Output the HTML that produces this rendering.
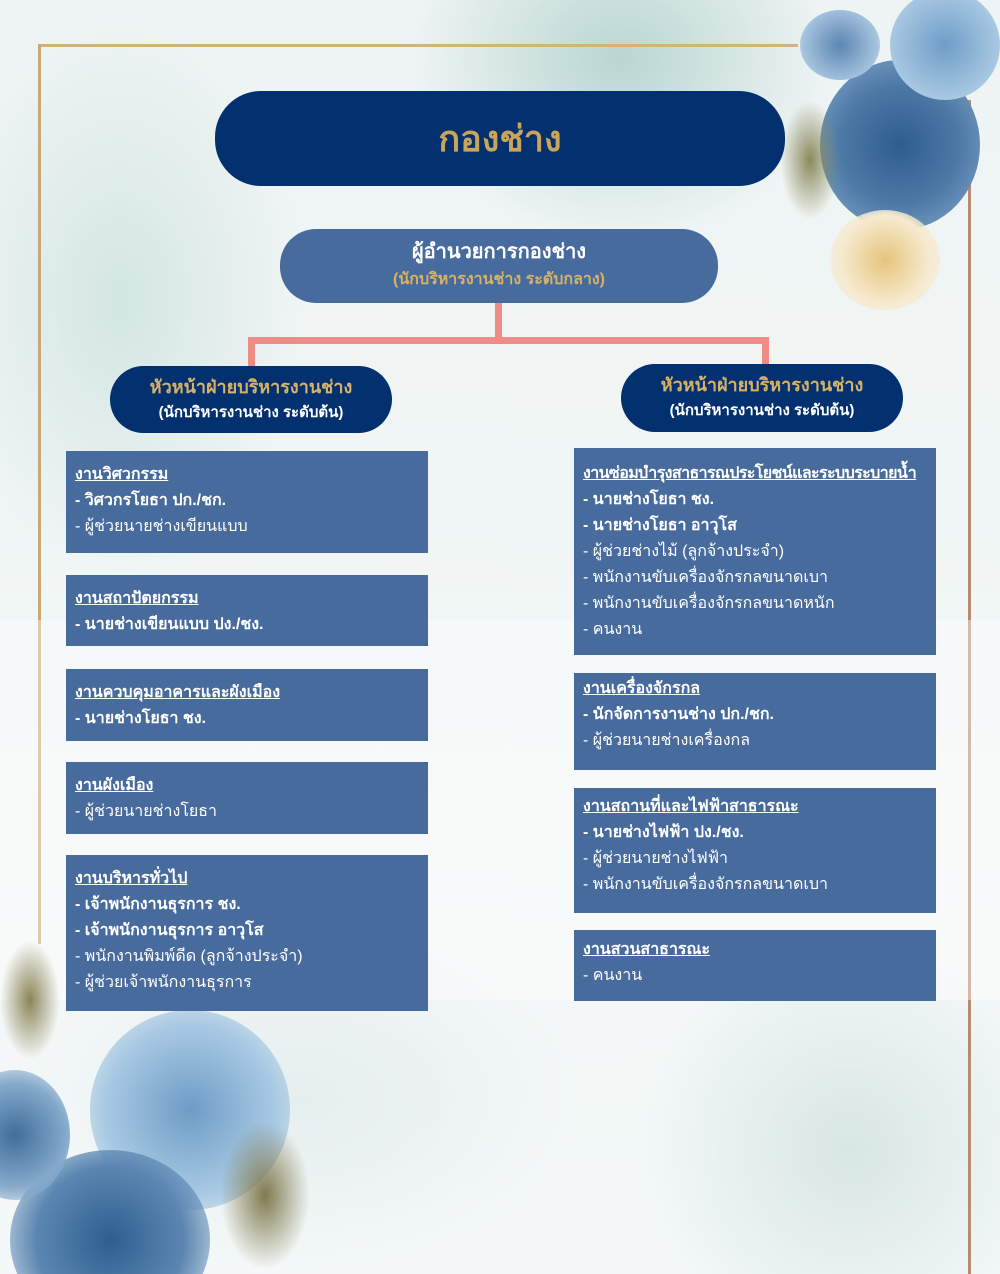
<!DOCTYPE html>
<html><head><meta charset="utf-8"><style>
*{margin:0;padding:0;box-sizing:border-box}
html,body{width:1000px;height:1274px;overflow:hidden}
#w{width:1000px;height:1274px;position:relative;overflow:hidden;font-family:"Liberation Sans","DejaVu Sans",sans-serif;
background:
radial-gradient(ellipse 300px 260px at 620px 60px,#b9d6d3 0%,rgba(185,214,211,0) 70%),
radial-gradient(ellipse 260px 400px at 120px 300px,#d3e6e4 0%,rgba(211,230,228,0) 70%),
radial-gradient(ellipse 300px 300px at 850px 1150px,#d8e6e6 0%,rgba(216,230,230,0) 70%),
radial-gradient(ellipse 400px 250px at 300px 1100px,#e6eeee 0%,rgba(230,238,238,0) 70%),
linear-gradient(#eef4f3,#f4f8f8);}
.a{position:absolute}
.pill{position:absolute;border-radius:36px;text-align:center;font-weight:bold}
.box{position:absolute;background:#486b9e;color:#fff;padding:11px 9px;font-size:16px;line-height:26px;white-space:nowrap;overflow:hidden}
.box u{font-weight:bold}
.b{font-weight:bold}
.fl{position:absolute;border-radius:50%}
</style></head><body><div id="w">
<div class="a" style="left:38px;top:44px;width:760px;height:3px;background:#d4b27a"></div>
<div class="a" style="left:38px;top:44px;width:3px;height:900px;background:#c9a777"></div>
<div class="a" style="left:968px;top:100px;width:3px;height:1174px;background:#b98a72"></div>
<div class="a" style="left:0;top:620px;width:1000px;height:380px;background:rgba(255,255,255,0.4)"></div>

<div class="fl" style="left:820px;top:60px;width:160px;height:170px;background:radial-gradient(circle,#2f5d8c 0%,#4c78a6 50%,#7ea3c6 90%,rgba(126,163,198,0) 100%)"></div>
<div class="fl" style="left:890px;top:-10px;width:110px;height:110px;background:radial-gradient(circle,#6f9dc8,#a8c8e2 70%,rgba(168,200,226,0))"></div>
<div class="fl" style="left:800px;top:10px;width:80px;height:70px;background:radial-gradient(circle,#5c86b3,#a5c3de 70%,rgba(165,195,222,0))"></div>
<div class="fl" style="left:830px;top:210px;width:110px;height:100px;background:radial-gradient(circle,#e6c57c,#f6ead0 60%,rgba(246,234,208,0))"></div>
<div class="fl" style="left:780px;top:100px;width:60px;height:120px;background:radial-gradient(ellipse,#8a8a5c,rgba(138,138,92,0) 70%)"></div>
<div class="fl" style="left:90px;top:1010px;width:200px;height:200px;background:radial-gradient(circle,#6e9cc6,#a8c9e3 60%,rgba(168,201,227,0) 100%)"></div>
<div class="fl" style="left:10px;top:1150px;width:200px;height:180px;background:radial-gradient(circle,#2f5f8e,#5b86b2 55%,rgba(91,134,178,0) 100%)"></div>
<div class="fl" style="left:-40px;top:1070px;width:110px;height:130px;background:radial-gradient(circle,#3f6e9a,#84a9cb 60%,rgba(132,169,203,0))"></div>
<div class="fl" style="left:220px;top:1120px;width:90px;height:150px;background:radial-gradient(ellipse,#807a4e,rgba(128,122,78,0) 70%)"></div>
<div class="fl" style="left:0;top:940px;width:60px;height:120px;background:radial-gradient(ellipse,#8b8558,rgba(139,133,88,0) 70%)"></div>

<div class="pill" style="left:215px;top:91px;width:570px;height:95px;background:#03306f;border-radius:46px;color:#c9a55a;font-size:36px;line-height:95px">กองช่าง</div>
<div class="pill" style="left:280px;top:229px;width:438px;height:74px;background:#486b9e;padding-top:8px">
<div style="color:#fff;font-size:20px;line-height:30px">ผู้อำนวยการกองช่าง</div>
<div style="color:#d7b266;font-size:16px;line-height:26px">(นักบริหารงานช่าง ระดับกลาง)</div></div>

<div class="a" style="left:495px;top:303px;width:7px;height:40px;background:#f08c88"></div>
<div class="a" style="left:248px;top:337px;width:521px;height:7px;background:#f08c88"></div>
<div class="a" style="left:248px;top:337px;width:7px;height:32px;background:#f08c88"></div>
<div class="a" style="left:762px;top:337px;width:7px;height:30px;background:#f08c88"></div>

<div class="pill" style="left:110px;top:366px;width:282px;height:67px;background:#03306f;padding-top:7px">
<div style="color:#d7b266;font-size:18px;line-height:28px">หัวหน้าฝ่ายบริหารงานช่าง</div>
<div style="color:#fff;font-size:15px;line-height:24px">(นักบริหารงานช่าง ระดับต้น)</div></div>
<div class="pill" style="left:621px;top:364px;width:282px;height:68px;background:#03306f;padding-top:7px">
<div style="color:#d7b266;font-size:18px;line-height:28px">หัวหน้าฝ่ายบริหารงานช่าง</div>
<div style="color:#fff;font-size:15px;line-height:24px">(นักบริหารงานช่าง ระดับต้น)</div></div>

<div class="box" style="left:66px;top:451px;width:362px;height:102px"><u>งานวิศวกรรม</u><br><span class="b">- วิศวกรโยธา ปก./ชก.</span><br>- ผู้ช่วยนายช่างเขียนแบบ</div>
<div class="box" style="left:66px;top:575px;width:362px;height:71px"><u>งานสถาปัตยกรรม</u><br><span class="b">- นายช่างเขียนแบบ ปง./ชง.</span></div>
<div class="box" style="left:66px;top:669px;width:362px;height:72px"><u>งานควบคุมอาคารและผังเมือง</u><br><span class="b">- นายช่างโยธา ชง.</span></div>
<div class="box" style="left:66px;top:762px;width:362px;height:72px"><u>งานผังเมือง</u><br>- ผู้ช่วยนายช่างโยธา</div>
<div class="box" style="left:66px;top:855px;width:362px;height:156px"><u>งานบริหารทั่วไป</u><br><span class="b">- เจ้าพนักงานธุรการ ชง.</span><br><span class="b">- เจ้าพนักงานธุรการ อาวุโส</span><br>- พนักงานพิมพ์ดีด (ลูกจ้างประจำ)<br>- ผู้ช่วยเจ้าพนักงานธุรการ</div>

<div class="box" style="left:574px;top:448px;width:362px;height:207px;padding-top:13px"><u style="letter-spacing:-0.6px">งานซ่อมบำรุงสาธารณประโยชน์และระบบระบายน้ำ</u><br><span class="b">- นายช่างโยธา ชง.</span><br><span class="b">- นายช่างโยธา อาวุโส</span><br>- ผู้ช่วยช่างไม้ (ลูกจ้างประจำ)<br>- พนักงานขับเครื่องจักรกลขนาดเบา<br>- พนักงานขับเครื่องจักรกลขนาดหนัก<br>- คนงาน</div>
<div class="box" style="left:574px;top:673px;width:362px;height:97px;padding-top:3px"><u>งานเครื่องจักรกล</u><br><span class="b">- นักจัดการงานช่าง ปก./ชก.</span><br>- ผู้ช่วยนายช่างเครื่องกล</div>
<div class="box" style="left:574px;top:788px;width:362px;height:125px;padding-top:6px"><u>งานสถานที่และไฟฟ้าสาธารณะ</u><br><span class="b">- นายช่างไฟฟ้า ปง./ชง.</span><br>- ผู้ช่วยนายช่างไฟฟ้า<br>- พนักงานขับเครื่องจักรกลขนาดเบา</div>
<div class="box" style="left:574px;top:930px;width:362px;height:71px;padding-top:7px"><u>งานสวนสาธารณะ</u><br>- คนงาน</div>
</div></body></html>
